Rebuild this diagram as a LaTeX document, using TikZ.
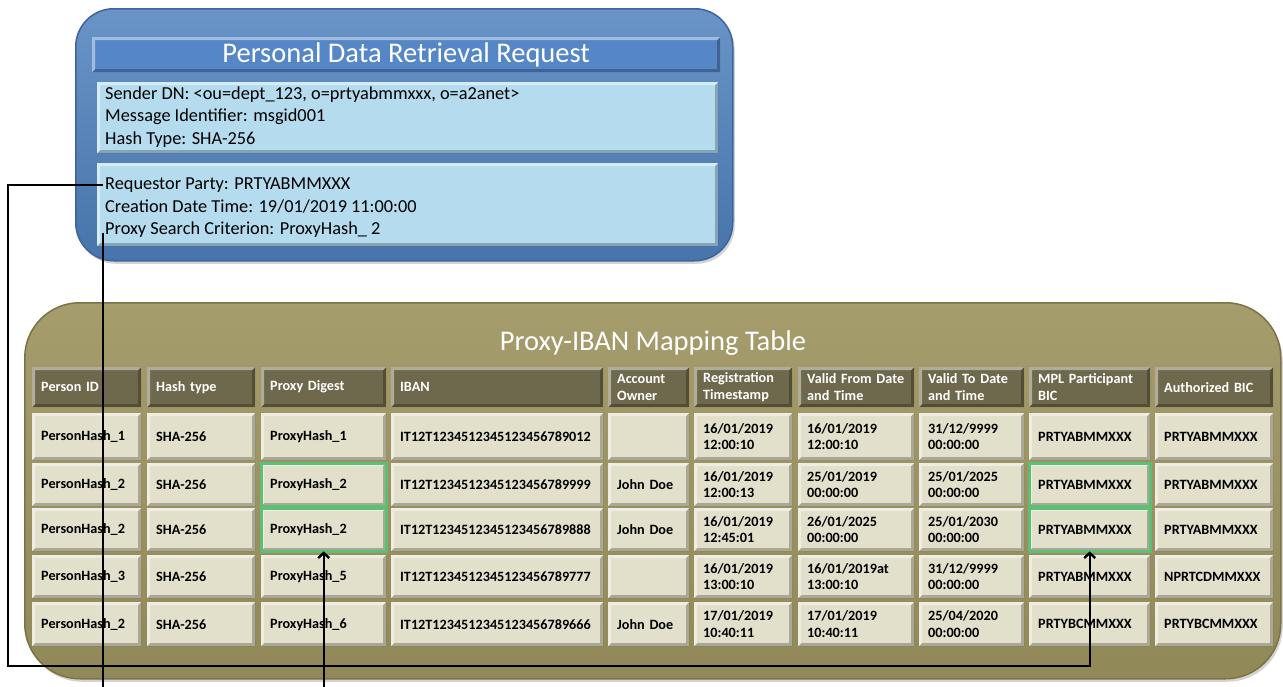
\documentclass[tikz,border=0pt]{standalone}
\usepackage{fontspec}
\setmainfont{Carlito}
\usepackage{tikz}
\usetikzlibrary{arrows.meta,positioning,shadows}

\definecolor{reqblue}{HTML}{4F81BD}
\definecolor{reqedge}{HTML}{3A659E}
\definecolor{bandblue}{HTML}{5586C6}
\definecolor{secblue}{HTML}{B4DCEE}
\definecolor{tabolive}{HTML}{9E9460}
\definecolor{tabedge}{HTML}{7C7244}
\definecolor{headolive}{HTML}{6E694C}
\definecolor{cellbeige}{HTML}{E2DFCB}
\definecolor{hitgreen}{HTML}{5CBF73}

\hyphenpenalty=10000

\tikzset{
  bevel/.style={path picture={
    \fill[white,opacity=.45] (path picture bounding box.north west) -- (path picture bounding box.north east)
      -- ([shift={(-3pt,-3pt)}]path picture bounding box.north east) -- ([shift={(3pt,-3pt)}]path picture bounding box.north west)
      -- ([shift={(3pt,3pt)}]path picture bounding box.south west) -- (path picture bounding box.south west) -- cycle;
    \fill[black,opacity=.25] (path picture bounding box.south east) -- (path picture bounding box.north east)
      -- ([shift={(-3pt,-3pt)}]path picture bounding box.north east) -- ([shift={(-3pt,3pt)}]path picture bounding box.south east)
      -- ([shift={(3pt,3pt)}]path picture bounding box.south west) -- (path picture bounding box.south west) -- cycle;
  }},
  cell/.style={anchor=north west,inner xsep=9pt,inner ysep=0pt,align=left,fill=cellbeige,bevel,
    font=\fontsize{14.2}{16.5}\selectfont\bfseries},
  headcell/.style={cell,fill=headolive,text=white},
}

% column left edges and widths of the mapping table
\def\colx{{32,147,261,391,608,694,798,919,1029,1155}}
\def\colw{{109,108,125,212,81,98,116,105,121,118}}

\newcommand{\tabrow}[5]{% style, row, top, height, cells
  \foreach \t [count=\c] in {#5} {
    \pgfmathsetmacro\cx{\colx[\c-1]}
    \pgfmathsetmacro\cw{\colw[\c-1]-18}
    \node[#1,text width=\cw pt,minimum height=#4pt] (r#2c\c) at (\cx,#3) {\t};
  }}

\begin{document}
\begin{tikzpicture}
    [x=1pt,y=-1pt,>={Straight Barb[length=5pt,width=11pt]},
     link/.style={->,line width=2.4pt,black},
     box/.style={anchor=north west,inner sep=0pt,drop shadow={opacity=.35,shadow xshift=2pt,shadow yshift=-3pt}},
     line/.style={anchor=west,inner xsep=2pt,inner ysep=0pt,font=\fontsize{18.3}{22}\selectfont},
     title/.style={text=white,font=\fontsize{28.5}{32}\selectfont},
     hit/.style={draw=hitgreen,line width=3pt}]

    \useasboundingbox (0,0) rectangle (1283,686);

    % request message
    \node[box,rounded corners=38pt,draw=reqedge,line width=1.5pt,top color=reqblue!85!white,bottom color=reqblue!90!black,
      minimum width=657pt,minimum height=252pt] (req-box) at (75,8) {};
    \node[anchor=north west,inner sep=0pt,fill=bandblue,bevel,minimum width=628pt,minimum height=35pt] (band) at (92,37) {};
    \node[anchor=north west,inner sep=0pt,fill=secblue,bevel,minimum width=621pt,minimum height=71pt] (sec1) at (97,82) {};
    \node[anchor=north west,inner sep=0pt,fill=secblue,bevel,minimum width=621pt,minimum height=83pt] (sec2) at (97,163) {};
    \node[title] (req-title) at (band) {Personal Data Retrieval Request};

    \node[line] (sender) at (103,95) {Sender DN: <ou=dept\_123, o=prtyabmmxxx, o=a2anet>};
    \node[line] (msgid) at (103,117) {Message Identifier: msgid001};
    \node[line] (hash) at (103,140) {Hash Type: SHA-256};
    \node[line] (party) at (103,185) {Requestor Party: PRTYABMMXXX};
    \node[line] (cdt) at (103,207) {Creation Date Time: 19/01/2019 11:00:00};
    \node[line] (crit) at (103,230) {Proxy Search Criterion: ProxyHash\_ 2};

    % mapping table
    \node[box,rounded corners=55pt,draw=tabedge,line width=1.5pt,top color=tabolive!92!white,bottom color=tabolive!92!black,
      minimum width=1256pt,minimum height=376pt] (map-box) at (24,302) {};
    \node[title] (map-title) at (653,343) {Proxy-IBAN Mapping Table};

    \tabrow{headcell}{0}{367}{40}{Person~ID, Hash~type, Proxy~Digest, IBAN, Account\\Owner, Registration\\Timestamp,
      Valid~From~Date\\and~Time, Valid~To~Date\\and~Time, MPL~Participant\\BIC, Authorized~BIC}
    \tabrow{cell}{1}{413}{47}{PersonHash\_1, SHA-256, ProxyHash\_1, IT12T1234512345123456789012, {},
      {16/01/2019\\12:00:10}, {16/01/2019\\12:00:10}, {31/12/9999\\00:00:00}, PRTYABMMXXX, PRTYABMMXXX}
    \tabrow{cell}{2}{463}{43}{PersonHash\_2, SHA-256, ProxyHash\_2, IT12T1234512345123456789999, John~Doe,
      {16/01/2019\\12:00:13}, {25/01/2019\\00:00:00}, {25/01/2025\\00:00:00}, PRTYABMMXXX, PRTYABMMXXX}
    \tabrow{cell}{3}{508}{43}{PersonHash\_2, SHA-256, ProxyHash\_2, IT12T1234512345123456789888, John~Doe,
      {16/01/2019\\12:45:01}, {26/01/2025\\00:00:00}, {25/01/2030\\00:00:00}, PRTYABMMXXX, PRTYABMMXXX}
    \tabrow{cell}{4}{555}{43}{PersonHash\_3, SHA-256, ProxyHash\_5, IT12T1234512345123456789777, {},
      {16/01/2019\\13:00:10}, {16/01/2019at\\13:00:10}, {31/12/9999\\00:00:00}, PRTYABMMXXX, NPRTCDMMXXX}
    \tabrow{cell}{5}{602}{44}{PersonHash\_2, SHA-256, ProxyHash\_6, IT12T1234512345123456789666, John~Doe,
      {17/01/2019\\10:40:11}, {17/01/2019\\10:40:11}, {25/04/2020\\00:00:00}, PRTYBCMMXXX, PRTYBCMMXXX}

    \draw[hit] (r2c3.north west) rectangle (r2c3.south east);
    \draw[hit] (r3c3.north west) rectangle (r3c3.south east);
    \draw[hit] (r2c9.north west) rectangle (r2c9.south east);
    \draw[hit] (r3c9.north west) rectangle (r3c9.south east);

    % matching links
    \coordinate (turn1) at (8,666);
    \coordinate[below=480pt of crit.west] (turn2);
    \draw[link] (party.west) -| (turn1) -| (r3c9.south);
    \draw[link] ([yshift=-3pt]crit.west) -- (turn2) -| (r3c3.south);

\end{tikzpicture}
\end{document}
